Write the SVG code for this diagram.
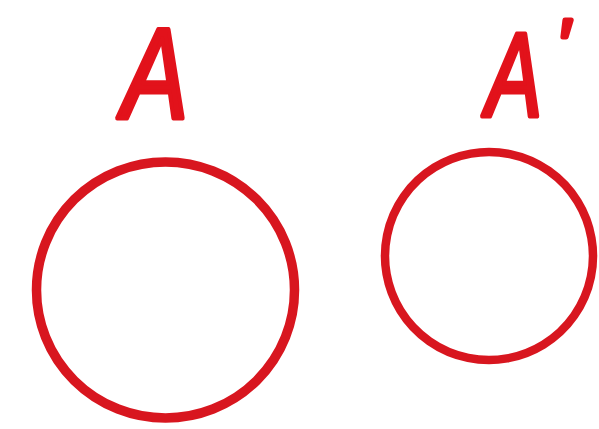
<svg xmlns="http://www.w3.org/2000/svg" width="599" height="429" viewBox="0 0 599 429">
  <style>
    .ring { fill: none; stroke: #d8161f; }
    .lbl { font-family: "Liberation Sans", Arial, sans-serif; font-style: italic; fill: #e2121b; stroke: #e2121b; stroke-width: 5; stroke-linejoin: round; stroke-linecap: round; }
  </style>
  <rect width="599" height="429" fill="#ffffff"/>
  <g id="nodeA">
    <ellipse class="ring" cx="165.5" cy="290" rx="129" ry="128" stroke-width="9.5"/>
    <text class="lbl" x="122" y="118" font-size="128" textLength="66" lengthAdjust="spacingAndGlyphs">A</text>
  </g>
  <g id="nodeAprime">
    <ellipse class="ring" cx="489" cy="256" rx="104" ry="104" stroke-width="8.5" transform="rotate(-10 489 256)"/>
    <text class="lbl" y="116" font-size="118"><tspan x="486" textLength="56" lengthAdjust="spacingAndGlyphs">A</tspan><tspan font-size="66" x="557" y="66">′</tspan></text>
  </g>
  <g id="connectors"/>
</svg>
